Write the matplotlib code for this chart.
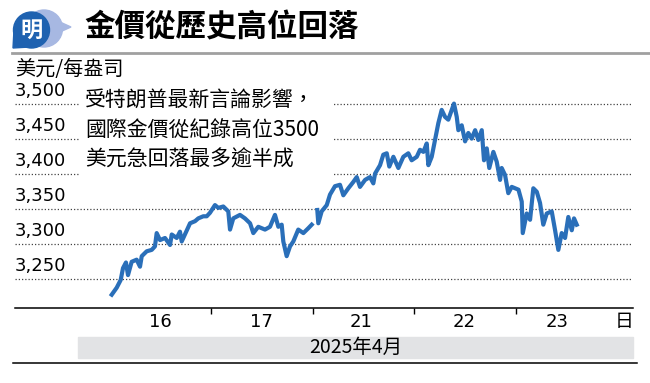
import numpy as np
import matplotlib
matplotlib.use("Agg")
import matplotlib.pyplot as plt
import matplotlib.patches as mpatches
from matplotlib.lines import Line2D

CJK = ['Noto Sans CJK TC', 'DejaVu Sans']

# gold price, x = trading-day index (0 = 16th ... 4 = 23rd), NaN = weekend break
price_x = [0.024, 0.073, 0.112, 0.135, 0.164, 0.184, 0.220, 0.269, 0.302, 0.319,
           0.368, 0.417, 0.449, 0.466, 0.499, 0.548, 0.597, 0.614, 0.663, 0.695,
           0.712, 0.744, 0.794, 0.843, 0.875, 0.924, 0.958, 0.990,
           1.039, 1.072, 1.121, 1.170, 1.187, 1.219, 1.285, 1.334, 1.384, 1.416,
           1.465, 1.531, 1.580, 1.629, 1.662, 1.695, 1.711, 1.744, 1.777, 1.809,
           1.858, 1.908, 1.957, 1.990, 2.0,
           2.045, 2.055, 2.088, 2.138, 2.170, 2.219, 2.268, 2.301, 2.350, 2.399,
           2.433, 2.465, 2.515, 2.563, 2.596, 2.613, 2.662, 2.694, 2.728, 2.753,
           2.793, 2.842, 2.891, 2.940, 2.973, 3.023, 3.055, 3.088, 3.121, 3.137,
           3.170, 3.203, 3.235, 3.268, 3.301, 3.333, 3.367, 3.389, 3.416, 3.432,
           3.465, 3.498, 3.530, 3.563, 3.597, 3.628, 3.662, 3.684, 3.711, 3.736,
           3.776, 3.809, 3.842, 3.858, 3.891, 3.923, 3.957, 3.991, 4.023, 4.055,
           4.065, 4.104, 4.137, 4.169, 4.203, 4.235, 4.267, 4.301, 4.350, 4.383,
           4.415, 4.448, 4.481, 4.513, 4.547, 4.569, 4.596]
price_y = [3228, 3238, 3249, 3266, 3274, 3256, 3275, 3278, 3268, 3283,
           3290, 3292, 3297, 3316, 3306, 3309, 3299, 3314, 3309, 3318,
           3304, 3314, 3330, 3333, 3337, 3340, 3340, 3345,
           3356, 3352, 3354, 3347, 3321, 3337, 3342, 3337, 3330, 3316,
           3325, 3321, 3325, 3342, 3325, 3328, 3304, 3283, 3297, 3304,
           3321, 3316, 3323, 3328, np.nan,
           3349, 3330, 3347, 3356, 3371, 3383, 3385, 3370, 3380, 3389,
           3396, 3382, 3392, 3396, 3387, 3401, 3413, 3428, 3430, 3411,
           3425, 3409, 3425, 3430, 3420, 3425, 3435, 3432, 3444, 3413,
           3425, 3449, 3473, 3492, 3482, 3478, 3492, 3501, 3482, 3463,
           3470, 3447, 3459, 3451, 3463, 3449, 3463, 3420, 3437, 3409,
           3432, 3418, 3392, 3409, 3399, 3373, 3382, 3380, 3378, 3361,
           3316, 3344, 3335, 3380, 3375, 3359, 3328, 3344, 3347, 3320,
           3292, 3316, 3309, 3339, 3320, 3337, 3328]

y_ticks = [3250, 3300, 3350, 3400, 3450, 3500]
day_labels = ['16', '17', '21', '22', '23']
day_label_pos = [0.5, 1.5, 2.48, 3.49, 4.4]

title = '金價從歷史高位回落'
unit = '美元/每盎司'
note_lines = ['受特朗普最新言論影響，', '國際金價從紀錄高位3500', '美元急回落最多逾半成']
month = '2025年4月'

LINE_BLUE = '#2a6fb9'

fig = plt.figure(figsize=(6.5, 3.83), dpi=100)
W, H = 650, 383

# main chart area (pixel box 15..633, 80..307.7)
ax = fig.add_axes([15 / W, 1 - 307.7 / H, (633 - 15) / W, (307.7 - 80) / H])
ax.set_xlim(-0.927, 5.149)
ax.set_ylim(3209.4, 3534.7)
for s in ['top', 'right', 'left']:
    ax.spines[s].set_visible(False)
ax.spines['bottom'].set_linewidth(1.1)
ax.set_xticks([1, 2, 3, 4])
ax.set_yticks([])
ax.tick_params(axis='x', length=4, width=1, labelbottom=False, direction='out')

for v in y_ticks:
    ax.axhline(v, color='#444444', lw=0.9, ls=(0, (1, 1.6)), zorder=1)
    ax.annotate(f'{v:,}', xy=(0, v), xycoords=('axes fraction', 'data'),
                xytext=(0, 3.2), textcoords='offset points',
                ha='left', va='bottom', fontsize=13, family='DejaVu Sans')

ax.plot(price_x, price_y, color=LINE_BLUE, lw=3.0, solid_joinstyle='round', zorder=3)

for lab, pos in zip(day_labels, day_label_pos):
    ax.annotate(lab, xy=(pos, 0), xycoords=('data', 'axes fraction'),
                xytext=(0, -10.5), textcoords='offset points',
                ha='center', va='center', fontsize=13, family='DejaVu Sans')

# overlay in pixel coordinates for the decorations
ov = fig.add_axes([0, 0, 1, 1], zorder=5)
ov.set_xlim(0, W)
ov.set_ylim(H, 0)
ov.axis('off')

# logo
ov.add_patch(mpatches.Circle((44, 28.5), 18.5, color='#a7b8e2'))
ov.add_patch(mpatches.Polygon([(61, 22.5), (71, 27), (61, 31.5)], color='#a7b8e2'))
ov.add_patch(mpatches.Circle((31.5, 30), 18, color='#1f62b0'))
ov.add_patch(mpatches.Polygon([(14, 30), (13, 48), (30, 47)], color='#1f62b0'))
ov.text(31.5, 30, '明', color='white', fontsize=16, fontweight='bold',
        ha='center', va='center', family=CJK)

ov.text(84, 27, title, fontsize=22, fontweight=900, ha='left', va='center', family=CJK)
ov.add_line(Line2D([12, W], [53, 53], color='#a0a0a0', lw=2))

ov.text(15, 70, unit, fontsize=14.5, ha='left', va='center', family=CJK)

# note box hides the grid behind it
ov.add_patch(mpatches.Rectangle((80, 87), 252, 89, color='white'))
for i, t in enumerate(note_lines):
    ov.text(85, 100 + i * 30, t, fontsize=15, ha='left', va='center', family=CJK)

ov.text(624, 322, '日', fontsize=13.5, ha='center', va='center', family=CJK)
ov.add_patch(mpatches.Rectangle((78, 337), 633 - 78, 21, color='#e2e3e5'))
ov.text(355.5, 347.5, month, fontsize=14, ha='center', va='center', family=CJK)
ov.add_line(Line2D([13, 637], [363, 363], color='black', lw=1.1))

fig.savefig('out.png', dpi=100)
